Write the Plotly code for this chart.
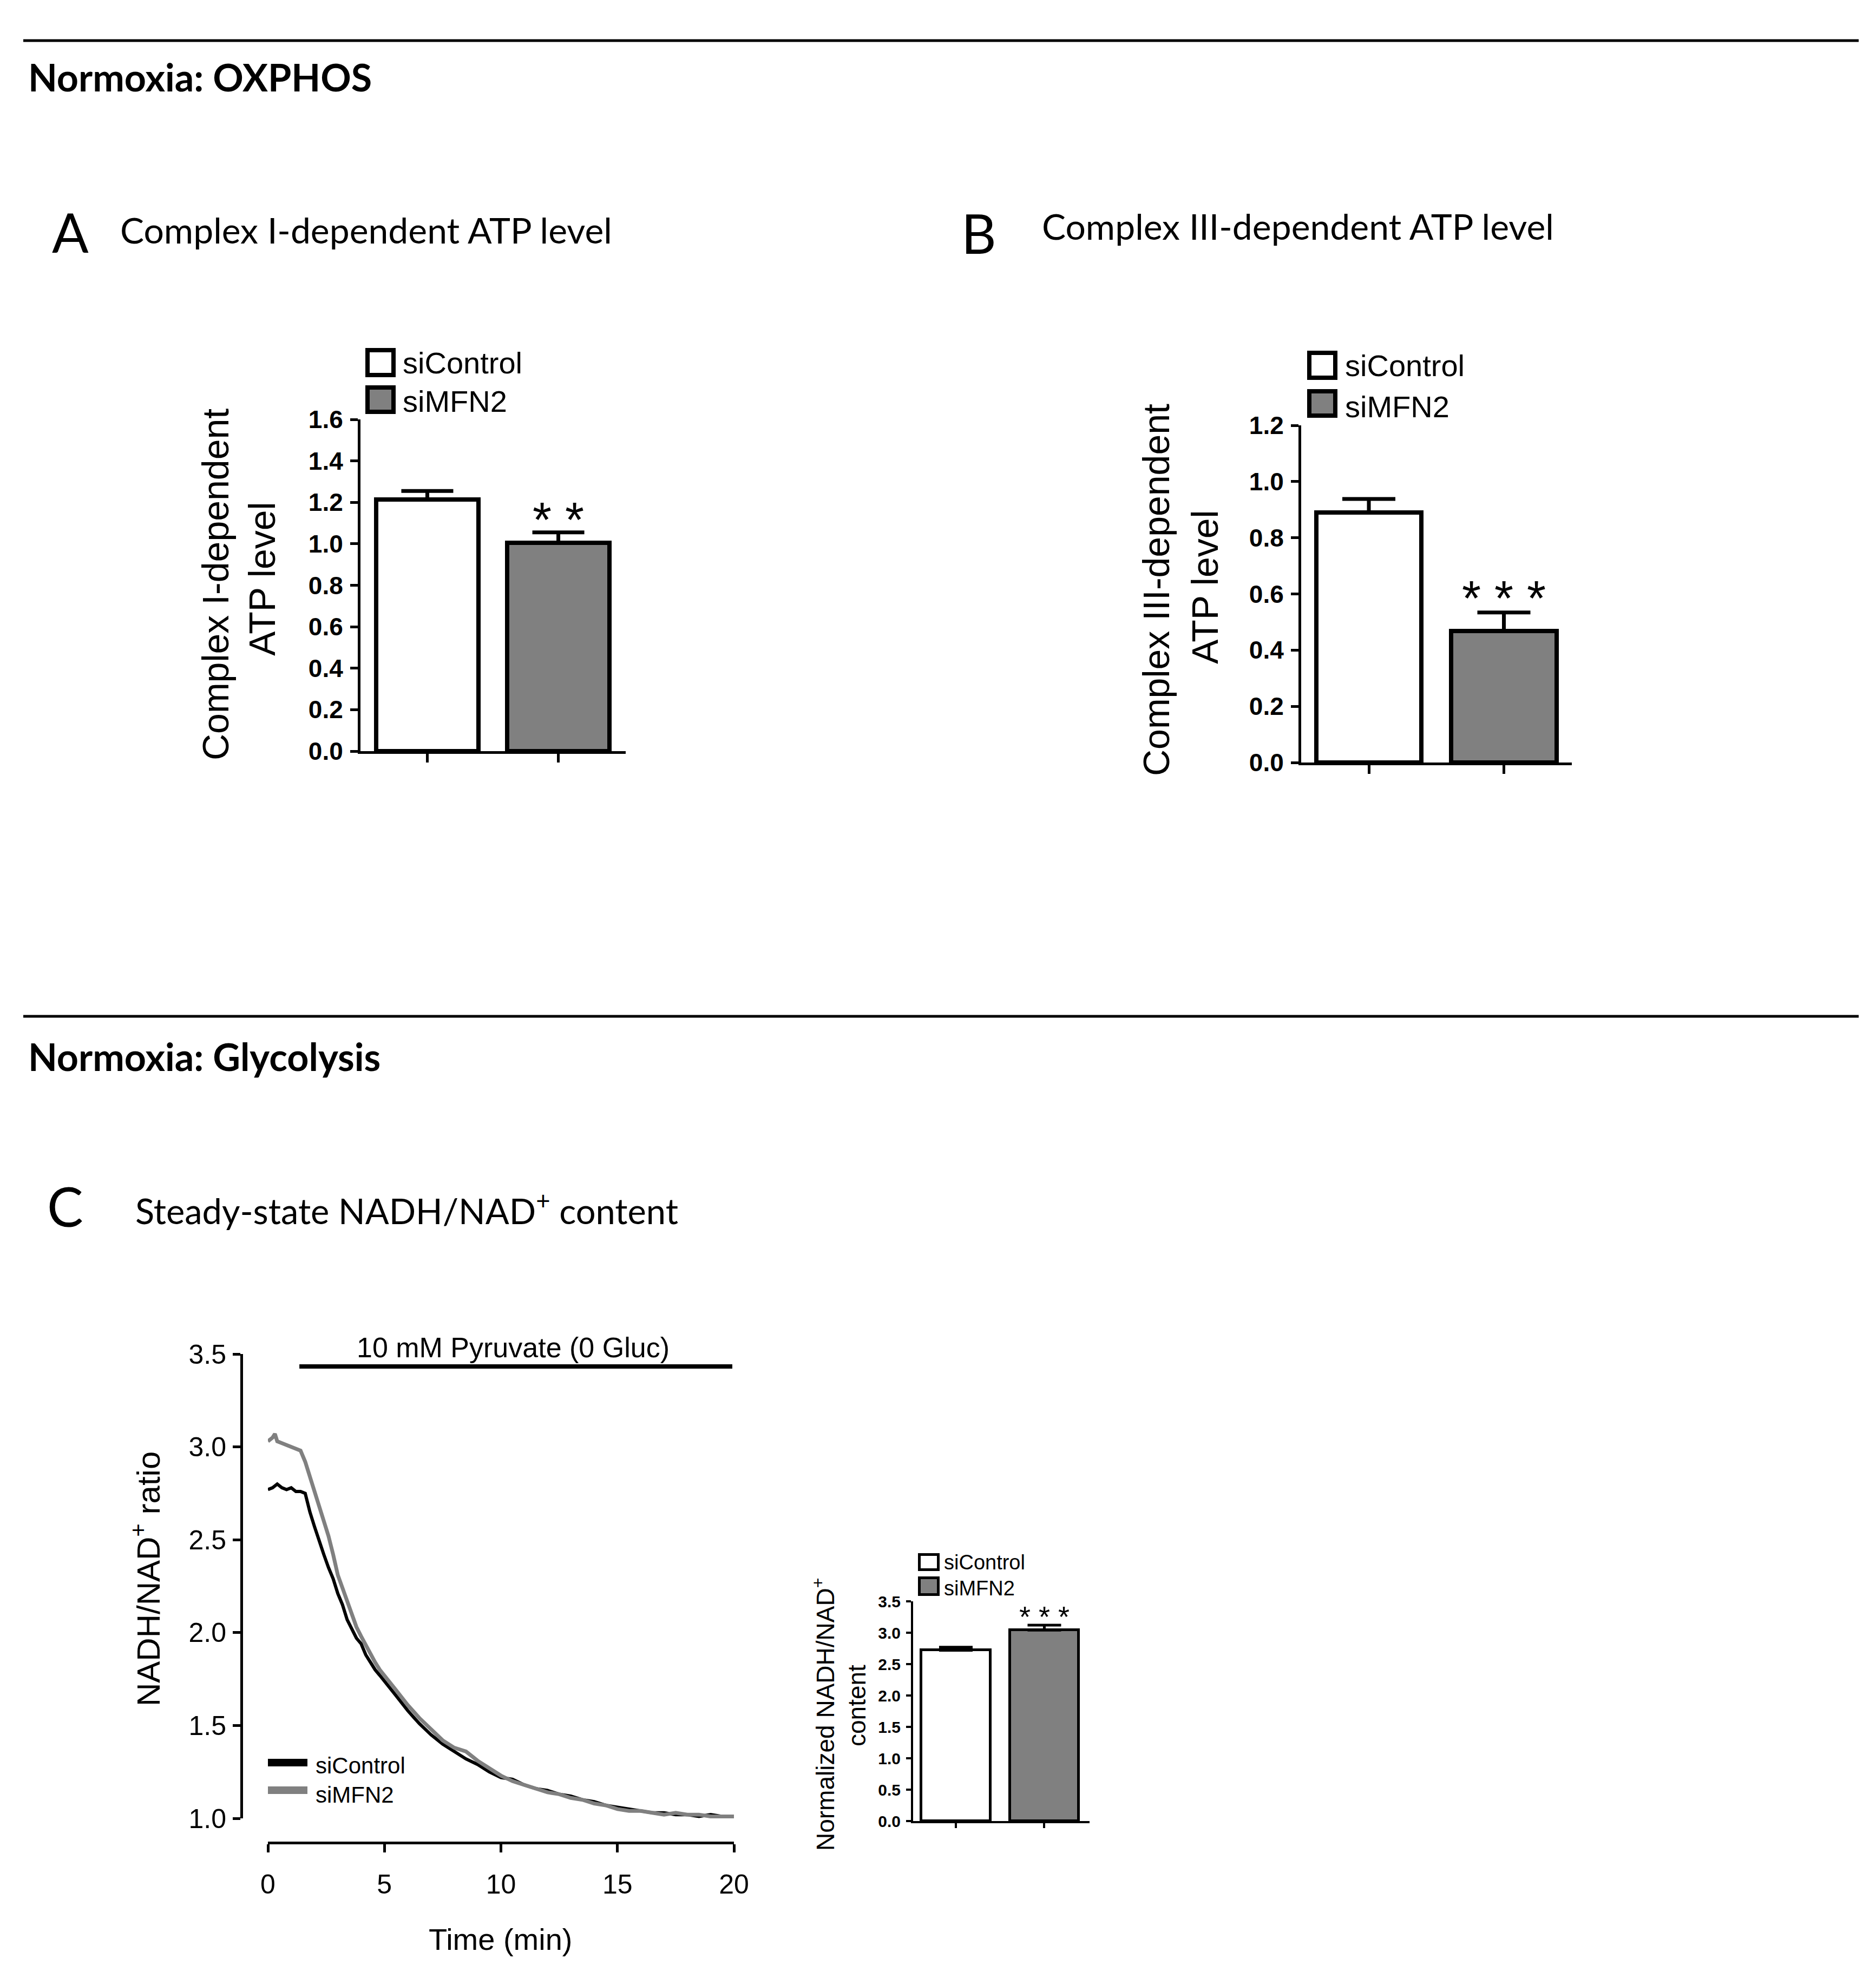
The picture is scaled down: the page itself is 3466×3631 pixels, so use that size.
import plotly.graph_objects as go

# ---------------- data ----------------
groups = ["siControl", "siMFN2"]

# Panel A: Complex I-dependent ATP level
A_means = [1.215, 1.005]
A_err = [0.04, 0.05]
A_yticks = [0.0, 0.2, 0.4, 0.6, 0.8, 1.0, 1.2, 1.4, 1.6]
A_stars = "* *"

# Panel B: Complex III-dependent ATP level
B_means = [0.89, 0.468]
B_err = [0.048, 0.066]
B_yticks = [0.0, 0.2, 0.4, 0.6, 0.8, 1.0, 1.2]
B_stars = "* * *"

# Panel C: NADH/NAD+ time course
t_ctrl = [0.0, 0.2, 0.4, 0.6, 0.8, 1.0, 1.2, 1.4, 1.6, 1.8, 2.0, 2.2, 2.4, 2.6, 2.8,
          3.0, 3.2, 3.4, 3.6, 3.8, 4.0, 4.2, 4.4, 4.6, 4.8, 5.0, 5.5, 6.0, 6.5, 7.0,
          7.5, 8.0, 8.5, 9.0, 9.5, 10.0, 10.5, 11.0, 11.5, 12.0, 12.5, 13.0, 13.5,
          14.0, 14.5, 15.0, 15.5, 16.0, 16.5, 17.0, 17.5, 18.0, 18.5, 19.0, 19.5, 20.0]
ratio_ctrl = [2.77, 2.78, 2.80, 2.78, 2.77, 2.78, 2.76, 2.76, 2.75, 2.65, 2.57, 2.49,
              2.42, 2.35, 2.29, 2.21, 2.15, 2.07, 2.02, 1.97, 1.94, 1.88, 1.84, 1.80,
              1.77, 1.74, 1.66, 1.58, 1.51, 1.45, 1.40, 1.36, 1.32, 1.29, 1.25, 1.22,
              1.21, 1.18, 1.16, 1.15, 1.13, 1.12, 1.10, 1.09, 1.07, 1.06, 1.05, 1.04,
              1.03, 1.03, 1.02, 1.02, 1.01, 1.02, 1.01, 1.01]
t_mfn2 = [0.0, 0.2, 0.3, 0.4, 0.6, 0.8, 1.0, 1.2, 1.4, 1.6, 1.8, 2.0, 2.2, 2.4, 2.6,
          2.8, 3.0, 3.2, 3.4, 3.6, 3.8, 4.0, 4.2, 4.4, 4.6, 4.8, 5.0, 5.5, 6.0, 6.5,
          7.0, 7.5, 8.0, 8.5, 9.0, 9.5, 10.0, 10.5, 11.0, 11.5, 12.0, 12.5, 13.0,
          13.5, 14.0, 14.5, 15.0, 15.5, 16.0, 16.5, 17.0, 17.5, 18.0, 18.5, 19.0,
          19.5, 20.0]
ratio_mfn2 = [3.03, 3.05, 3.07, 3.03, 3.02, 3.01, 3.00, 2.99, 2.98, 2.92, 2.84, 2.76,
              2.68, 2.60, 2.52, 2.42, 2.31, 2.24, 2.17, 2.09, 2.03, 1.98, 1.93, 1.88,
              1.84, 1.80, 1.77, 1.69, 1.61, 1.54, 1.48, 1.42, 1.38, 1.36, 1.31, 1.27,
              1.23, 1.20, 1.18, 1.16, 1.14, 1.13, 1.11, 1.10, 1.08, 1.07, 1.05, 1.04,
              1.04, 1.03, 1.02, 1.03, 1.02, 1.02, 1.01, 1.01, 1.01]
C_yticks = [1.0, 1.5, 2.0, 2.5, 3.0, 3.5]
C_xticks = [0, 5, 10, 15, 20]
pyruvate_start, pyruvate_end = 1.35, 19.93
pyruvate_label = "10 mM Pyruvate (0 Gluc)"

# Panel C inset: normalized NADH/NAD+ content
D_means = [2.72, 3.04]
D_err = [0.05, 0.08]
D_yticks = [0.0, 0.5, 1.0, 1.5, 2.0, 2.5, 3.0, 3.5]
D_stars = "* * *"

fill_colors = ["white", "#808080"]
line_colors = ["black", "#808080"]

# ---------------- layout helpers ----------------
W, H = 3466, 3631


def fx(p):
    return p / W


def fy(p):
    return 1 - p / H


GP = "Liberation Sans"
HEAD = "Lato"

fig = go.Figure()

# Bars A
fig.add_trace(go.Bar(x=groups, y=A_means, width=0.78,
                     marker=dict(color=fill_colors, line=dict(color="black", width=8)),
                     error_y=dict(type="data", symmetric=False, array=A_err, arrayminus=[0, 0],
                                  color="black", thickness=7, width=48),
                     xaxis="x", yaxis="y", showlegend=False))
# Bars B
fig.add_trace(go.Bar(x=groups, y=B_means, width=0.78,
                     marker=dict(color=fill_colors, line=dict(color="black", width=8)),
                     error_y=dict(type="data", symmetric=False, array=B_err, arrayminus=[0, 0],
                                  color="black", thickness=7, width=49),
                     xaxis="x2", yaxis="y2", showlegend=False))
# Time courses C
fig.add_trace(go.Scatter(x=t_ctrl, y=ratio_ctrl, mode="lines",
                         line=dict(color=line_colors[0], width=6),
                         xaxis="x3", yaxis="y3", showlegend=False))
fig.add_trace(go.Scatter(x=t_mfn2, y=ratio_mfn2, mode="lines",
                         line=dict(color=line_colors[1], width=7),
                         xaxis="x3", yaxis="y3", showlegend=False))
# Inset bars
fig.add_trace(go.Bar(x=groups, y=D_means, width=0.78,
                     marker=dict(color=fill_colors, line=dict(color="black", width=5)),
                     error_y=dict(type="data", symmetric=False, array=D_err, arrayminus=[0, 0],
                                  color="black", thickness=5, width=31),
                     xaxis="x4", yaxis="y4", showlegend=False))


def ycfg(dom, rng, ticks, fmt, size, bold, ticklen, tw, lw, **kw):
    d = dict(domain=dom, range=rng, tickvals=ticks, ticktext=[fmt.format(v) for v in ticks],
             showline=True, linewidth=lw, linecolor="black", ticks="outside",
             ticklen=ticklen, tickwidth=tw, tickcolor="black", showgrid=False,
             zeroline=False, automargin=False,
             tickfont=dict(family=GP, size=size, color="black",
                           weight="bold" if bold else "normal"))
    d.update(kw)
    return d


def xcat(dom, rng, anchor, ticklen, tw, lw):
    return dict(domain=dom, range=rng, type="category", showline=True, linewidth=lw,
                linecolor="black", ticks="outside", ticklen=ticklen, tickwidth=tw,
                tickcolor="black", showticklabels=False, showgrid=False, zeroline=False,
                anchor=anchor, automargin=False)


fig.update_layout(
    width=W, height=H, margin=dict(l=0, r=0, t=0, b=0, pad=0, autoexpand=False),
    paper_bgcolor="white", plot_bgcolor="rgba(0,0,0,0)", bargap=0,
    xaxis=xcat([fx(658), fx(1148)], [-0.51, 1.514], "y", 16, 5, 5),
    yaxis=ycfg([fy(1380), fy(767)], [0, 1.6], A_yticks, "{:.1f}", 46, True, 14, 5, 5,
               anchor="x", ticklabelstandoff=4),
    xaxis2=xcat([fx(2396), fx(2896)], [-0.501, 1.503], "y2", 16, 5, 5),
    yaxis2=ycfg([fy(1401), fy(778)], [0, 1.2], B_yticks, "{:.1f}", 46, True, 14, 5, 5,
                anchor="x2", ticklabelstandoff=4),
    xaxis3=dict(domain=[fx(487), fx(1348)], range=[0, 20], anchor="free", position=fy(3397),
                tickvals=C_xticks, ticktext=[str(v) for v in C_xticks], showline=True,
                linewidth=5, linecolor="black", ticks="outside", ticklen=15, tickwidth=5,
                tickcolor="black", showgrid=False, zeroline=False, ticklabelstandoff=16,
                automargin=False, tickfont=dict(family=GP, size=50, color="black")),
    yaxis3=ycfg([fy(3352), fy(2494)], [1.0, 3.5], C_yticks, "{:.1f}", 50, False, 14, 5, 5,
                anchor="free", position=fx(438), ticklabelstandoff=2),
    xaxis4=xcat([fx(1679), fx(2005)], [-0.483, 1.511], "y4", 9, 4, 4),
    yaxis4=ycfg([fy(3357), fy(2951)], [0, 3.5], D_yticks, "{:.1f}", 30, True, 9, 4, 4,
                anchor="x4", ticklabelstandoff=4),
)

shapes = []
ann = []

# section divider lines
for yy in (67, 1870):
    shapes.append(dict(type="line", xref="paper", yref="paper", x0=fx(35), x1=fx(3426),
                       y0=fy(yy), y1=fy(yy), line=dict(color="black", width=5)))


def text(x, y, s, size, family=GP, bold=False, xanchor="left", angle=0, color="black"):
    ann.append(dict(xref="paper", yref="paper", x=fx(x), y=fy(y), text=s, showarrow=False,
                    xanchor=xanchor, yanchor="middle", textangle=angle,
                    font=dict(family=family, size=size, color=color,
                              weight="bold" if bold else "normal")))


# headings
text(42, 134, "Normoxia: OXPHOS", 70, HEAD, True)
text(42, 1944, "Normoxia: Glycolysis", 70, HEAD, True)
text(122, 420, "A", 100, HEAD, xanchor="center")
text(212, 416, "Complex I-dependent ATP level", 66, HEAD)
text(1800, 422, "B", 100, HEAD, xanchor="center")
text(1915, 409, "Complex III-dependent ATP level", 66, HEAD)
text(112, 2220, "C", 100, HEAD, xanchor="center")
text(240, 2225, "Steady-state NADH/NAD<sup>+</sup> content", 65, HEAD)

# axis titles (GraphPad style, two-line)
text(390, 1072, "Complex I-dependent", 68, xanchor="center", angle=-90)
text(476, 1062, "ATP level", 68, xanchor="center", angle=-90)
text(2128, 1082, "Complex III-dependent", 68, xanchor="center", angle=-90)
text(2218, 1077, "ATP level", 68, xanchor="center", angle=-90)
text(262, 2910, "NADH/NAD<sup>+</sup> ratio", 60, xanchor="center", angle=-90)
text(916, 3575, "Time (min)", 56, xanchor="center")
text(1514, 3160, "Normalized NADH/NAD<sup>+</sup>", 46, xanchor="center", angle=-90)
text(1575, 3144, "content", 46, xanchor="center", angle=-90)


# bar legends (manual, GraphPad style)
def box_legend(x0, x1, ys, lw, tx, tys, size):
    for (ya, yb), fc, lab, ty in zip(ys, fill_colors, groups, tys):
        shapes.append(dict(type="rect", xref="paper", yref="paper",
                           x0=fx(x0 + lw / 2), x1=fx(x1 - lw / 2),
                           y0=fy(yb - lw / 2), y1=fy(ya + lw / 2),
                           fillcolor=fc, line=dict(color="black", width=lw)))
        text(tx, ty, lab, size)


box_legend(667, 723, [(635, 689), (704, 757)], 8, 734, [662, 734], 56)
box_legend(2407, 2463, [(640, 694), (711, 764)], 8, 2475, [667, 744], 56)
box_legend(1688, 1728, [(2862, 2895), (2905, 2941)], 5, 1734, [2879, 2927], 38)

# line legend for C
for yy, col, lab, ty in zip((3249, 3300), line_colors, groups, (3254, 3308)):
    shapes.append(dict(type="line", xref="paper", yref="paper", x0=fx(487), x1=fx(560),
                       y0=fy(yy), y1=fy(yy), line=dict(color=col, width=14)))
    text(573, ty, lab, 42)

# pyruvate bar (data coords of panel C) and its label
shapes.append(dict(type="line", xref="x3", yref="y3", x0=pyruvate_start, x1=pyruvate_end,
                   y0=3.433, y1=3.433, line=dict(color="black", width=8)))
text(940, 2482, pyruvate_label, 52, xanchor="center")

# significance stars
ann.append(dict(xref="x", yref="y", x=groups[1], y=1.115, text=A_stars, showarrow=False,
                xanchor="center", yanchor="middle", font=dict(family=GP, size=90, color="black")))
ann.append(dict(xref="x2", yref="y2", x=groups[1], y=0.583, text=B_stars, showarrow=False,
                xanchor="center", yanchor="middle", font=dict(family=GP, size=90, color="black")))
ann.append(dict(xref="x4", yref="y4", x=groups[1], y=3.26, text=D_stars, showarrow=False,
                xanchor="center", yanchor="middle", font=dict(family=GP, size=54, color="black")))

fig.update_layout(shapes=shapes, annotations=ann)
fig.write_html("out.html")
